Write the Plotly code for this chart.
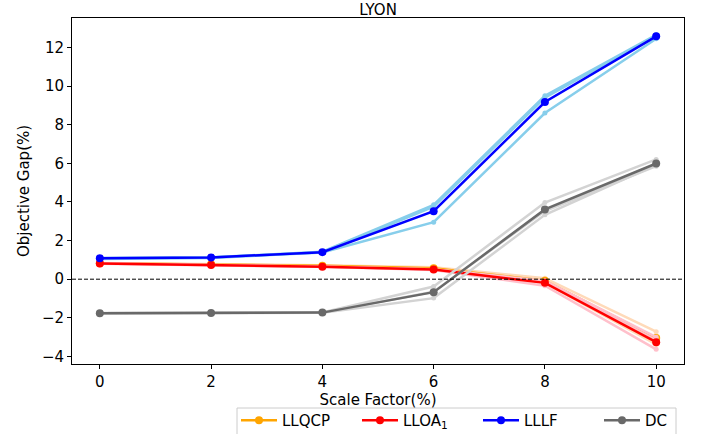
import plotly.graph_objects as go

scale_factor = [0, 2, 4, 6, 8, 10]

llqcp_mean = [0.83, 0.77, 0.70, 0.57, -0.08, -3.05]
llqcp_runs = [
    [0.84, 0.78, 0.72, 0.62, 0.05, -2.72],
    [0.83, 0.77, 0.70, 0.57, -0.10, -3.05],
    [0.82, 0.76, 0.68, 0.52, -0.19, -3.38],
]

lloa_mean = [0.81, 0.74, 0.65, 0.50, -0.19, -3.26]
lloa_runs = [
    [0.82, 0.75, 0.66, 0.52, -0.08, -3.00],
    [0.81, 0.74, 0.65, 0.50, -0.15, -3.15],
    [0.80, 0.73, 0.64, 0.48, -0.34, -3.63],
]

lllf_mean = [1.09, 1.12, 1.40, 3.52, 9.17, 12.57]
lllf_runs = [
    [1.05, 1.10, 1.38, 2.95, 8.60, 12.45],
    [1.10, 1.13, 1.42, 3.85, 9.50, 12.65],
    [1.08, 1.12, 1.40, 3.75, 9.40, 12.60],
]

dc_mean = [-1.76, -1.75, -1.73, -0.67, 3.61, 5.99]
dc_runs = [
    [-1.75, -1.74, -1.72, -0.38, 3.97, 6.20],
    [-1.77, -1.76, -1.74, -0.98, 3.33, 5.92],
    [-1.76, -1.75, -1.73, -0.65, 3.53, 5.85],
]

methods = [
    ("LLQCP", llqcp_mean, llqcp_runs, "#FFA500", "#FFDAB9"),
    ("LLOA<sub>1</sub>", lloa_mean, lloa_runs, "#FF0000", "#FFC0CB"),
    ("LLLF", lllf_mean, lllf_runs, "#0000FF", "#87CEEB"),
    ("DC", dc_mean, dc_runs, "#696969", "#D3D3D3"),
]

fig = go.Figure()
for name, mean, runs, col, light in methods:
    for r in runs:
        fig.add_trace(go.Scatter(
            x=scale_factor, y=r, mode="lines+markers",
            line=dict(color=light, width=2.5),
            marker=dict(color=light, size=5),
            showlegend=False, hoverinfo="skip"))
    fig.add_trace(go.Scatter(
        x=scale_factor, y=mean, mode="lines+markers", name=name,
        line=dict(color=col, width=2.5),
        marker=dict(color=col, size=8)))

fig.add_shape(type="line", xref="paper", yref="y", x0=0, x1=1, y0=0, y1=0,
              line=dict(color="black", width=1, dash="4px,2px"))

W, H = 704, 434
L, R, T, B = 72, 20, 18, 70
PW, PH = W - L - R, H - T - B


def px_x(page_x):
    return (page_x - L) / PW


def px_y(page_y):
    return (H - B - page_y) / PH


# legend frame
fig.add_shape(type="rect", xref="paper", yref="paper",
              x0=px_x(237), x1=px_x(676), y0=px_y(408), y1=px_y(445),
              line=dict(color="#CCCCCC", width=1), fillcolor="rgba(0,0,0,0)")

font = "DejaVu Sans, sans-serif"
fig.update_layout(
    width=W, height=H,
    margin=dict(l=L, r=R, t=T, b=B, autoexpand=False),
    plot_bgcolor="white", paper_bgcolor="white",
    font=dict(family=font, size=15, color="black"),
    title=dict(text="LYON", x=(L + PW / 2) / W, xanchor="center",
               y=1 - 10 / H, yanchor="middle", yref="container",
               font=dict(size=15)),
    xaxis=dict(range=[-0.5, 10.5], tickvals=scale_factor,
               showline=True, mirror=True, linecolor="black", linewidth=1,
               ticks="outside", ticklen=4, tickcolor="black",
               showgrid=False, zeroline=False, automargin=False,
               title=dict(text="Scale Factor(%)", standoff=0, font=dict(size=15)),
               tickfont=dict(size=15)),
    yaxis=dict(range=[-4.39, 13.52], tickvals=[-4, -2, 0, 2, 4, 6, 8, 10, 12],
               showline=True, mirror=True, linecolor="black", linewidth=1,
               ticks="outside", ticklen=4, tickcolor="black",
               showgrid=False, zeroline=False, automargin=False,
               title=dict(text="Objective Gap(%)", standoff=8, font=dict(size=15)),
               tickfont=dict(size=15)),
    legend=dict(orientation="h", x=px_x(236), xanchor="left",
                y=px_y(404), yanchor="top",
                borderwidth=0, bgcolor="rgba(0,0,0,0)",
                font=dict(size=15), itemwidth=36, entrywidth=70,
                entrywidthmode="pixels", tracegroupgap=0),
)

fig.write_html("out.html",
               config={"displayModeBar": False},
               post_script="document.body.style.margin='0';document.body.style.overflow='hidden';")
